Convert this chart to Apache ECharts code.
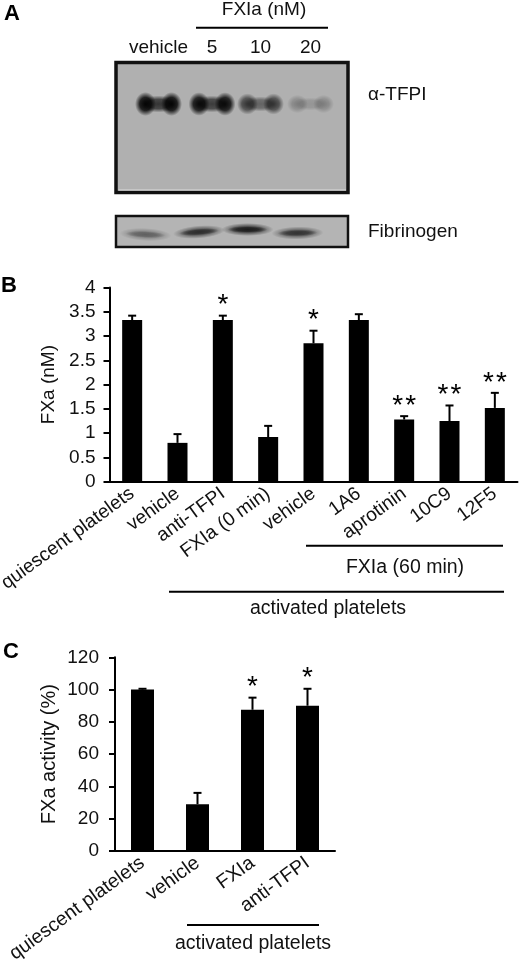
<!DOCTYPE html>
<html><head><meta charset="utf-8">
<style>html,body{margin:0;padding:0;background:#fff}#c{width:520px;height:961px}</style>
<script src="https://cdn.jsdelivr.net/npm/echarts@6/dist/echarts.min.js"></script>
</head><body><div id="c"></div>
<script>
// --- data ---
const blotLanes = ['vehicle', '5', '10', '20'];
const tfpiIntensity = [1.0, 0.95, 0.62, 0.22];
const fibrinogenIntensity = [0.4, 0.75, 0.9, 0.7];

const bCategories = ['quiescent platelets','vehicle','anti-TFPI','FXIa (0 min)','vehicle','1A6','aprotinin','10C9','12F5'];
const bValues = [3.33, 0.80, 3.33, 0.92, 2.85, 3.33, 1.28, 1.25, 1.52];
const bErrorTops = [3.42, 0.98, 3.42, 1.15, 3.11, 3.45, 1.35, 1.57, 1.83];
const bStars = [0, 0, 1, 0, 1, 0, 2, 2, 2];
const bTicks = ['0','0.5','1','1.5','2','2.5','3','3.5','4'];

const cCategories = ['quiescent platelets','vehicle','FXIa','anti-TFPI'];
const cValues = [100, 29, 87.5, 90];
const cErrorTops = [100.5, 36, 95, 100.5];
const cStars = [0, 0, 1, 1];

// --- styling helpers (not data) ---
const FONT = '"Liberation Sans", Arial, sans-serif';
const INK = '#111';
const laneNudge = [0, 2.5, 0, -1];
const fibNudgeY = [2.5, 0, -2.5, 1];
const fibTilt = [-0.05, 0.08, 0, 0.02];

const chart = echarts.init(document.getElementById('c'), null, {renderer:'canvas'});

function blob(cx, cy, rx, ry, alpha, rot) {
  return {
    type:'circle', x:cx, y:cy, rotation:rot||0, scaleX:rx/10, scaleY:ry/10,
    shape:{cx:0, cy:0, r:10},
    style:{fill:new echarts.graphic.RadialGradient(0.5,0.5,0.5,[
      {offset:0, color:'rgba(0,0,0,'+alpha+')'},
      {offset:0.55, color:'rgba(0,0,0,'+alpha*0.85+')'},
      {offset:1, color:'rgba(0,0,0,0)'}
    ])}
  };
}

function tfpiItem(params, api) {
  const i = api.value(0), v = api.value(1);
  const p = api.coord([i, 0]);
  const x = p[0] + laneNudge[i], y = p[1];
  const top = params.coordSys.y;
  return {type:'group', children:[
    blob(x, y, 20, 8.5 * (0.7 + 0.3*v), Math.min(1, v*0.7)),
    blob(x-13, y, 10.5, 12 * (0.7 + 0.3*v), Math.min(1, v*0.95)),
    blob(x+13, y, 10.5, 12 * (0.7 + 0.3*v), Math.min(1, v*0.95)),
    {type:'text', x:x, y:top-13.5, style:{text:blotLanes[i], fontSize:19, fontFamily:FONT, fill:INK, align:'center', verticalAlign:'middle'}}
  ]};
}

function fibItem(params, api) {
  const i = api.value(0), v = api.value(1);
  const p = api.coord([i, 0]);
  return {type:'group', children:[
    blob(p[0] - 13 + laneNudge[i], p[1] + fibNudgeY[i], 26, 6.5, v*0.6, fibTilt[i]),
    blob(p[0] - 13 + laneNudge[i], p[1] + fibNudgeY[i], 20, 3.5, v*0.75, fibTilt[i])
  ]};
}

function errItem(stars, capHalf, starGap) {
  return function (params, api) {
    const i = api.value(0);
    const b = api.coord([i, api.value(1)]);
    const t = api.coord([i, api.value(2)]);
    const lw = 2;
    const kids = [
      {type:'line', shape:{x1:b[0], y1:b[1], x2:t[0], y2:t[1]}, style:{stroke:'#000', lineWidth:lw}},
      {type:'line', shape:{x1:t[0]-capHalf, y1:t[1], x2:t[0]+capHalf, y2:t[1]}, style:{stroke:'#000', lineWidth:lw}}
    ];
    const n = stars[i];
    for (let s = 0; s < n; s++) {
      const dx = n === 1 ? 0 : (s === 0 ? -6.5 : 6.5);
      kids.push({type:'text', x:t[0]+dx, y:t[1]-starGap, style:{text:'*', fontSize:28, fontFamily:FONT, fill:'#000', align:'center', verticalAlign:'middle'}});
    }
    return {type:'group', children:kids};
  };
}

const txt = (x, y, text, size, extra) => ({type:'text', z:10, x, y, style:Object.assign({text, fontSize:size, fontFamily:FONT, fill:INK, align:'center', verticalAlign:'middle'}, extra||{})});
const rule = (x1, x2, y, w, c) => ({type:'line', z:10, shape:{x1, y1:y, x2, y2:y}, style:{stroke:c||'#000', lineWidth:w||2}});
const frame = (x, y, w, h, fill, lw) => ({type:'rect', z:0, shape:{x, y, width:w, height:h}, style:{fill, stroke:'#111', lineWidth:lw}});

const hiddenAxes = {show:false};

chart.setOption({
  animation:false,
  backgroundColor:'#fff',
  grid:[
    {left:133, top:61, width:204, height:86, outerBoundsMode:'none'},    // TFPI blot lanes, y centre ≈ band
    {left:133, top:217, width:204, height:30, outerBoundsMode:'none'},   // Fibrinogen blot
    {left:109.5, top:287.5, width:408, height:194.2, outerBoundsMode:'none'},
    {left:115, top:657.3, width:220, height:193.7, outerBoundsMode:'none'}
  ],
  xAxis:[
    Object.assign({type:'category', gridIndex:0, data:blotLanes}, hiddenAxes),
    Object.assign({type:'category', gridIndex:1, data:blotLanes}, hiddenAxes),
    {type:'category', gridIndex:2, data:bCategories, axisTick:{show:false},
     axisLine:{lineStyle:{color:'#000', width:2}},
     axisLabel:{interval:0, rotate:36, margin:10, fontSize:19.2, fontFamily:FONT, color:INK, hideOverlap:false}},
    {type:'category', gridIndex:3, data:cCategories, axisTick:{show:false},
     axisLine:{lineStyle:{color:'#000', width:2}},
     axisLabel:{interval:0, rotate:36, margin:10, fontSize:19.5, fontFamily:FONT, color:INK, hideOverlap:false}}
  ],
  yAxis:[
    Object.assign({type:'value', gridIndex:0, min:-1, max:1}, hiddenAxes),
    Object.assign({type:'value', gridIndex:1, min:-1, max:1}, hiddenAxes),
    {type:'value', gridIndex:2, min:0, max:4, interval:0.5,
     axisLine:{show:true, lineStyle:{color:'#000', width:2}},
     axisTick:{show:true, length:6, lineStyle:{color:'#000', width:2}},
     splitLine:{show:false},
     axisLabel:{margin:14, fontSize:19, fontFamily:FONT, color:INK, formatter:(v)=>bTicks[Math.round(v/0.5)]},
     name:'FXa (nM)', nameLocation:'middle', nameGap:51, nameMoveOverlap:false, nameTextStyle:{fontSize:19, fontFamily:FONT, color:INK}},
    {type:'value', gridIndex:3, min:0, max:120, interval:20,
     axisLine:{show:true, lineStyle:{color:'#000', width:2}},
     axisTick:{show:true, length:6, lineStyle:{color:'#000', width:2}},
     splitLine:{show:false},
     axisLabel:{margin:16, fontSize:19, fontFamily:FONT, color:INK},
     name:'FXa activity (%)', nameLocation:'middle', nameGap:56, nameMoveOverlap:false, nameTextStyle:{fontSize:20, fontFamily:FONT, color:INK}}
  ],
  series:[
    {type:'custom', xAxisIndex:0, yAxisIndex:0, z:5, clip:false, renderItem:tfpiItem,
     encode:{x:0,y:2}, data:tfpiIntensity.map((v,i)=>[i,v,0])},
    {type:'custom', xAxisIndex:1, yAxisIndex:1, z:5, clip:false, renderItem:fibItem,
     encode:{x:0,y:2}, data:fibrinogenIntensity.map((v,i)=>[i,v,0])},
    {type:'bar', xAxisIndex:2, yAxisIndex:2, data:bValues, barWidth:20, itemStyle:{color:'#000'}, z:3},
    {type:'custom', xAxisIndex:2, yAxisIndex:2, z:4, clip:false, renderItem:errItem(bStars,4,10),
     encode:{x:0,y:2}, data:bValues.map((v,i)=>[i,v,bErrorTops[i]])},
    {type:'bar', xAxisIndex:3, yAxisIndex:3, data:cValues, barWidth:23, itemStyle:{color:'#000'}, z:3},
    {type:'custom', xAxisIndex:3, yAxisIndex:3, z:4, clip:false, renderItem:errItem(cStars,4,10),
     encode:{x:0,y:2}, data:cValues.map((v,i)=>[i,v,cErrorTops[i]])}
  ],
  graphic:{elements:[
    frame(116, 62.5, 232, 130, '#b0b0b0', 3.5),
    frame(116, 216, 232, 31, '#b4b4b4', 2.5),
    rule(118.5, 346, 190, 1, '#ddd'),
    txt(12, 14, 'A', 22, {fontWeight:'bold', fill:'#000'}),
    txt(9, 285.5, 'B', 22, {fontWeight:'bold', fill:'#000'}),
    txt(11, 652, 'C', 22, {fontWeight:'bold', fill:'#000'}),
    txt(264, 10, 'FXIa (nM)', 19),
    rule(196, 328, 27.7),
    txt(368, 95, 'α-TFPI', 19, {align:'left'}),
    txt(368, 232, 'Fibrinogen', 19, {align:'left'}),
    rule(306, 503, 545.7),
    txt(405, 568, 'FXIa (60 min)', 19.5),
    rule(169, 504, 591.7),
    txt(328, 609, 'activated platelets', 19.5),
    rule(187, 319, 925),
    txt(253, 944, 'activated platelets', 19.5)
  ]}
});
</script></body></html>
